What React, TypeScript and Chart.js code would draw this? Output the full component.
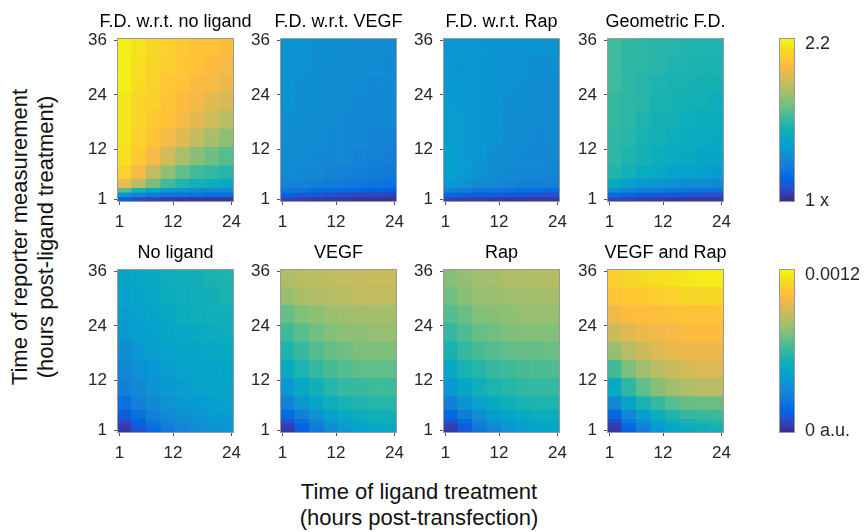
import React, { useEffect, useRef } from 'react';
import { Chart, registerables } from 'chart.js';
Chart.register(...registerables);

const FONT = "'Liberation Sans', Arial, Helvetica, sans-serif";

// ---------- data ----------
// x: time of ligand treatment (hours post-transfection), 3-h bin centres
const ligandTimes = [2, 5, 8, 11, 14, 17, 20, 23];
// y: time of reporter measurement (hours post-ligand treatment), bins listed top -> bottom
const reporterBins = [
  [32.5, 36.5], [28.5, 32.5], [24.5, 28.5], [20.5, 24.5], [16.5, 20.5], [12.5, 16.5],
  [8.5, 12.5], [5.5, 8.5], [3.5, 5.5], [2.5, 3.5], [1.5, 2.5], [0.5, 1.5],
];
const xTicks = [1, 12, 24];
const yTicks = [1, 12, 24, 36];

// fold difference (x), rows top -> bottom
const fdNoLigand = [
  [2.21, 2.18, 2.14, 2.12, 2.09, 2.07, 2.06, 2.04],
  [2.21, 2.17, 2.13, 2.11, 2.08, 2.06, 2.04, 2.02],
  [2.21, 2.16, 2.12, 2.08, 2.06, 2.03, 2.02, 1.99],
  [2.19, 2.14, 2.11, 2.07, 2.04, 2.01, 1.97, 1.94],
  [2.19, 2.14, 2.09, 2.06, 2.02, 1.97, 1.92, 1.87],
  [2.19, 2.12, 2.07, 2.02, 1.96, 1.89, 1.83, 1.78],
  [2.17, 2.09, 2.02, 1.93, 1.84, 1.77, 1.72, 1.68],
  [2.12, 2.02, 1.89, 1.78, 1.70, 1.64, 1.62, 1.59],
  [1.99, 1.87, 1.74, 1.64, 1.58, 1.54, 1.52, 1.49],
  [1.68, 1.55, 1.47, 1.40, 1.37, 1.34, 1.33, 1.32],
  [1.37, 1.30, 1.27, 1.24, 1.23, 1.22, 1.20, 1.20],
  [1.14, 1.09, 1.07, 1.05, 1.04, 1.03, 1.03, 1.03],
];
const fdVEGF = [
  [1.37, 1.37, 1.35, 1.35, 1.35, 1.34, 1.34, 1.34],
  [1.37, 1.37, 1.35, 1.35, 1.34, 1.34, 1.34, 1.33],
  [1.37, 1.35, 1.35, 1.34, 1.34, 1.34, 1.33, 1.33],
  [1.37, 1.35, 1.35, 1.34, 1.34, 1.33, 1.33, 1.32],
  [1.35, 1.35, 1.34, 1.34, 1.33, 1.33, 1.32, 1.32],
  [1.35, 1.34, 1.34, 1.33, 1.33, 1.32, 1.30, 1.30],
  [1.34, 1.34, 1.33, 1.32, 1.32, 1.30, 1.29, 1.28],
  [1.33, 1.33, 1.32, 1.30, 1.29, 1.28, 1.27, 1.25],
  [1.30, 1.29, 1.28, 1.27, 1.25, 1.24, 1.23, 1.22],
  [1.24, 1.23, 1.20, 1.19, 1.18, 1.17, 1.15, 1.14],
  [1.15, 1.13, 1.12, 1.10, 1.09, 1.08, 1.08, 1.07],
  [1.07, 1.05, 1.04, 1.03, 1.03, 1.02, 1.02, 1.02],
];
const fdRap = [
  [1.38, 1.38, 1.38, 1.37, 1.37, 1.37, 1.37, 1.37],
  [1.39, 1.38, 1.38, 1.37, 1.37, 1.37, 1.35, 1.35],
  [1.39, 1.39, 1.38, 1.37, 1.37, 1.35, 1.35, 1.34],
  [1.40, 1.39, 1.38, 1.37, 1.35, 1.35, 1.34, 1.34],
  [1.42, 1.40, 1.38, 1.37, 1.35, 1.34, 1.34, 1.33],
  [1.42, 1.40, 1.38, 1.37, 1.35, 1.34, 1.33, 1.33],
  [1.43, 1.40, 1.38, 1.35, 1.34, 1.33, 1.33, 1.32],
  [1.43, 1.40, 1.37, 1.34, 1.33, 1.32, 1.32, 1.30],
  [1.40, 1.37, 1.34, 1.32, 1.30, 1.29, 1.29, 1.28],
  [1.29, 1.27, 1.24, 1.23, 1.22, 1.20, 1.20, 1.19],
  [1.18, 1.15, 1.14, 1.13, 1.12, 1.12, 1.10, 1.10],
  [1.07, 1.05, 1.05, 1.04, 1.04, 1.04, 1.03, 1.03],
];
const fdGeometric = [
  [1.64, 1.61, 1.60, 1.59, 1.59, 1.57, 1.57, 1.57],
  [1.64, 1.61, 1.60, 1.59, 1.57, 1.57, 1.56, 1.56],
  [1.64, 1.61, 1.59, 1.57, 1.56, 1.56, 1.55, 1.55],
  [1.62, 1.60, 1.59, 1.56, 1.55, 1.54, 1.54, 1.52],
  [1.62, 1.60, 1.57, 1.55, 1.54, 1.52, 1.51, 1.51],
  [1.61, 1.59, 1.56, 1.54, 1.52, 1.51, 1.50, 1.49],
  [1.61, 1.57, 1.55, 1.52, 1.50, 1.49, 1.47, 1.46],
  [1.58, 1.54, 1.50, 1.48, 1.45, 1.44, 1.43, 1.41],
  [1.49, 1.44, 1.40, 1.38, 1.37, 1.35, 1.34, 1.33],
  [1.34, 1.30, 1.27, 1.25, 1.24, 1.23, 1.22, 1.22],
  [1.20, 1.17, 1.14, 1.13, 1.12, 1.12, 1.10, 1.10],
  [1.08, 1.07, 1.05, 1.04, 1.04, 1.03, 1.03, 1.03],
];

// reporter level in units of 1e-4 a.u., rows top -> bottom
const noLigand = [
  [4.6, 4.8, 4.9, 5.2, 5.3, 5.4, 5.6, 5.7],
  [4.4, 4.7, 4.8, 5.1, 5.2, 5.3, 5.4, 5.6],
  [4.2, 4.4, 4.7, 4.8, 5.1, 5.2, 5.3, 5.4],
  [3.9, 4.2, 4.4, 4.7, 4.8, 4.9, 5.1, 5.2],
  [3.5, 3.9, 4.2, 4.4, 4.6, 4.7, 4.8, 4.9],
  [3.2, 3.6, 3.9, 4.2, 4.4, 4.5, 4.6, 4.7],
  [2.8, 3.3, 3.7, 4.0, 4.2, 4.4, 4.5, 4.6],
  [2.1, 2.8, 3.3, 3.7, 3.9, 4.1, 4.2, 4.4],
  [1.3, 2.1, 2.8, 3.3, 3.6, 3.8, 4.0, 4.1],
  [0.8, 1.6, 2.4, 3.0, 3.4, 3.6, 3.8, 3.9],
  [0.5, 1.3, 2.1, 2.8, 3.2, 3.5, 3.7, 3.8],
  [0.3, 1.0, 1.8, 2.5, 3.0, 3.4, 3.6, 3.8],
];
const vegf = [
  [8.5, 8.7, 8.8, 8.9, 9.0, 9.0, 9.1, 9.1],
  [8.0, 8.4, 8.6, 8.7, 8.8, 8.9, 8.9, 8.9],
  [7.1, 7.6, 7.8, 8.1, 8.2, 8.3, 8.3, 8.3],
  [6.4, 6.9, 7.3, 7.6, 7.8, 7.8, 8.0, 8.0],
  [5.7, 6.3, 6.8, 7.1, 7.3, 7.5, 7.5, 7.5],
  [4.9, 5.7, 6.2, 6.6, 6.8, 7.0, 7.0, 7.0],
  [3.9, 4.8, 5.4, 5.9, 6.2, 6.3, 6.4, 6.4],
  [2.9, 3.8, 4.6, 5.2, 5.6, 5.8, 5.9, 5.9],
  [1.8, 2.8, 3.7, 4.4, 4.9, 5.2, 5.4, 5.4],
  [1.0, 2.0, 3.0, 3.9, 4.4, 4.8, 5.1, 5.2],
  [0.6, 1.5, 2.7, 3.5, 4.2, 4.6, 4.8, 4.9],
  [0.4, 1.3, 2.4, 3.3, 3.9, 4.4, 4.7, 4.8],
];
const rap = [
  [7.7, 8.0, 8.2, 8.3, 8.5, 8.5, 8.6, 8.6],
  [7.3, 7.7, 8.0, 8.1, 8.2, 8.2, 8.3, 8.3],
  [6.8, 7.2, 7.6, 7.7, 7.8, 8.0, 8.0, 8.0],
  [6.2, 6.7, 7.1, 7.3, 7.5, 7.6, 7.6, 7.6],
  [5.6, 6.2, 6.6, 6.8, 7.0, 7.1, 7.1, 7.2],
  [4.8, 5.6, 5.9, 6.3, 6.4, 6.6, 6.7, 6.7],
  [3.9, 4.7, 5.3, 5.7, 5.9, 6.1, 6.2, 6.2],
  [2.8, 3.7, 4.4, 4.9, 5.3, 5.6, 5.7, 5.7],
  [1.7, 2.7, 3.5, 4.2, 4.7, 4.9, 5.2, 5.2],
  [1.0, 1.9, 2.9, 3.7, 4.2, 4.6, 4.8, 4.9],
  [0.6, 1.4, 2.5, 3.3, 3.9, 4.3, 4.6, 4.7],
  [0.4, 1.2, 2.3, 3.0, 3.7, 4.2, 4.4, 4.6],
];
const vegfAndRap = [
  [11.1, 11.4, 11.6, 11.7, 11.9, 12.0, 12.1, 12.1],
  [10.7, 10.9, 11.0, 11.1, 11.2, 11.4, 11.5, 11.5],
  [10.1, 10.4, 10.5, 10.5, 10.6, 10.6, 10.6, 10.7],
  [9.2, 9.7, 10.0, 10.1, 10.2, 10.4, 10.4, 10.4],
  [8.0, 8.7, 9.2, 9.6, 9.9, 10.0, 10.0, 10.0],
  [6.4, 7.5, 8.2, 8.7, 9.1, 9.4, 9.5, 9.5],
  [4.9, 6.1, 7.0, 7.7, 8.2, 8.5, 8.7, 8.7],
  [3.2, 4.6, 5.6, 6.3, 6.8, 7.1, 7.2, 7.2],
  [1.7, 3.2, 4.3, 5.2, 5.8, 6.2, 6.3, 6.4],
  [0.9, 2.3, 3.5, 4.6, 5.2, 5.6, 5.8, 5.9],
  [0.5, 1.8, 3.0, 4.1, 4.8, 5.2, 5.4, 5.6],
  [0.3, 1.4, 2.7, 3.8, 4.6, 4.9, 5.2, 5.3],
];

// colour scale limits and colorbar ticks
const foldRange = [0.99, 2.244];
const foldTicks = [1, 2.2];
const foldTickLabels = ['1 x', '2.2'];
const auRange = [-0.115, 12.5]; // 1e-4 a.u.
const auTicks = [0, 12];
const auTickLabels = ['0 a.u.', '0.0012'];

// ---------- parula colormap (subset of 64-entry table: [index, r, g, b]) ----------
const PARULA = [
  [0, 53, 42, 135], [2, 54, 55, 160], [4, 50, 67, 186], [6, 32, 83, 212], [8, 3, 99, 225],
  [10, 4, 109, 224], [12, 13, 117, 220], [14, 18, 125, 216], [16, 20, 133, 212], [18, 16, 142, 210],
  [20, 9, 152, 209], [22, 6, 160, 205], [24, 6, 167, 198], [26, 10, 172, 190], [28, 21, 177, 180],
  [30, 37, 181, 169], [32, 56, 185, 158], [34, 77, 188, 146], [36, 101, 190, 134], [38, 124, 191, 123],
  [40, 146, 191, 115], [42, 165, 190, 107], [44, 183, 189, 100], [46, 200, 188, 93], [48, 217, 186, 86],
  [50, 233, 185, 78], [51, 241, 185, 74], [52, 248, 186, 68], [53, 253, 190, 61], [54, 255, 195, 55],
  [55, 254, 200, 50], [56, 252, 206, 46], [58, 247, 216, 38], [60, 245, 228, 29], [62, 246, 243, 19],
  [63, 249, 251, 14],
];
function parula(t: number): string {
  const u = Math.min(1, Math.max(0, t)) * 63;
  for (let i = 0; i < PARULA.length - 1; i++) {
    const a = PARULA[i];
    const b = PARULA[i + 1];
    if (u <= b[0]) {
      const f = (u - a[0]) / (b[0] - a[0]);
      const c = [1, 2, 3].map((k) => Math.round(a[k] + (b[k] - a[k]) * f));
      return `rgb(${c[0]},${c[1]},${c[2]})`;
    }
  }
  return 'rgb(249,251,14)';
}

// ---------- layout ----------
const PANEL_W = 117;
const PANEL_H = 164;
const PAD_L = 45;
const TITLE_H = 38;
const XAXIS_H = 35;

const panels = [
  { title: 'F.D. w.r.t. no ligand', values: fdNoLigand, range: foldRange, left: 117, top: 38 },
  { title: 'F.D. w.r.t. VEGF', values: fdVEGF, range: foldRange, left: 280, top: 38 },
  { title: 'F.D. w.r.t. Rap', values: fdRap, range: foldRange, left: 443, top: 38 },
  { title: 'Geometric F.D.', values: fdGeometric, range: foldRange, left: 607, top: 38 },
  { title: 'No ligand', values: noLigand, range: auRange, left: 117, top: 269 },
  { title: 'VEGF', values: vegf, range: auRange, left: 280, top: 269 },
  { title: 'Rap', values: rap, range: auRange, left: 443, top: 269 },
  { title: 'VEGF and Rap', values: vegfAndRap, range: auRange, left: 607, top: 269 },
];
const colorbars = [
  { range: foldRange, ticks: foldTicks, labels: foldTickLabels, left: 779, top: 38 },
  { range: auRange, ticks: auTicks, labels: auTickLabels, left: 779, top: 269 },
];

const framePlugin = {
  id: 'frame',
  afterDatasetsDraw(chart: any) {
    const { ctx, chartArea: a } = chart;
    ctx.save();
    ctx.strokeStyle = '#9a9a9a';
    ctx.lineWidth = 1;
    ctx.strokeRect(a.left + 0.5, a.top + 0.5, a.right - a.left - 1, a.bottom - a.top - 1);
    ctx.restore();
  },
};

const tickFont = { family: FONT, size: 17 };
const TICK_COLOR = '#262626';

function HeatPanel({ p }: any) {
  const ref = useRef<HTMLCanvasElement>(null);
  useEffect(() => {
    const [dMin, dMax] = p.range;
    const points: any[] = [];
    reporterBins.forEach((bin, r) => {
      ligandTimes.forEach((x, c) => {
        points.push({ x, y: bin, v: p.values[r][c] });
      });
    });
    const gridOpts = {
      offset: false,
      drawOnChartArea: false,
      drawTicks: true,
      tickLength: 3,
      color: '#555555',
    };
    const chart = new Chart(ref.current as HTMLCanvasElement, {
      type: 'bar',
      data: {
        datasets: [
          {
            data: points,
            backgroundColor: (ctx: any) =>
              ctx.raw ? parula((ctx.raw.v - dMin) / (dMax - dMin)) : 'rgba(0,0,0,0)',
            borderWidth: 0,
            barPercentage: 1,
            categoryPercentage: 1,
          } as any,
        ],
      },
      options: {
        responsive: false,
        animation: false,
        events: [],
        layout: { padding: 0 },
        plugins: {
          legend: { display: false },
          tooltip: { enabled: false },
          title: {
            display: true,
            text: p.title,
            color: '#000000',
            font: { family: FONT, size: 18, weight: 'normal' },
            padding: { top: 11, bottom: TITLE_H - 21.6 - 11 },
          },
        },
        scales: {
          x: {
            type: 'linear',
            min: 0.5,
            max: 24.5,
            offset: false,
            afterBuildTicks: (s: any) => {
              s.ticks = xTicks.map((value) => ({ value }));
            },
            afterFit: (s: any) => {
              s.height = XAXIS_H;
            },
            ticks: { font: tickFont, color: TICK_COLOR, padding: 7, maxRotation: 0, autoSkip: false },
            grid: gridOpts,
            border: { display: false },
          },
          y: {
            type: 'linear',
            min: 0.5,
            max: 36.5,
            afterBuildTicks: (s: any) => {
              s.ticks = yTicks.map((value) => ({ value }));
            },
            afterFit: (s: any) => {
              s.width = PAD_L;
            },
            ticks: { font: tickFont, color: TICK_COLOR, padding: 7, autoSkip: false },
            grid: gridOpts,
            border: { display: false },
          },
          yRight: {
            type: 'linear',
            position: 'right',
            min: 0,
            max: 1,
            ticks: { display: false },
            grid: { display: false, drawTicks: false },
            border: { display: false },
            afterFit: (s: any) => {
              s.width = PAD_L;
            },
          },
        },
      } as any,
      plugins: [framePlugin],
    });
    return () => chart.destroy();
  }, []);
  return (
    <canvas
      ref={ref}
      width={PAD_L * 2 + PANEL_W}
      height={TITLE_H + PANEL_H + XAXIS_H}
      style={{ position: 'absolute', left: p.left - PAD_L, top: p.top - TITLE_H }}
    />
  );
}

const CB_BOTTOM = 30;

function ColorBar({ cb }: any) {
  const ref = useRef<HTMLCanvasElement>(null);
  useEffect(() => {
    const [dMin, dMax] = cb.range;
    const chart = new Chart(ref.current as HTMLCanvasElement, {
      type: 'bar',
      data: {
        labels: [''],
        datasets: [
          {
            data: [[dMin, dMax]],
            backgroundColor: (ctx: any) => {
              const a = ctx.chart.chartArea;
              if (!a) return 'rgba(0,0,0,0)';
              const g = ctx.chart.ctx.createLinearGradient(0, a.bottom, 0, a.top);
              PARULA.forEach(([i, r, gg, b]) => g.addColorStop(i / 63, `rgb(${r},${gg},${b})`));
              return g;
            },
            borderWidth: 0,
            barPercentage: 1,
            categoryPercentage: 1,
          } as any,
        ],
      },
      options: {
        responsive: false,
        animation: false,
        events: [],
        layout: { padding: { left: 0, right: 0, top: TITLE_H, bottom: 0 } },
        plugins: { legend: { display: false }, tooltip: { enabled: false }, title: { display: false } },
        scales: {
          x: {
            type: 'category',
            display: true,
            ticks: { display: false },
            grid: { display: false, drawTicks: false },
            border: { display: false },
            afterFit: (s: any) => {
              s.height = CB_BOTTOM;
            },
          },
          y: {
            type: 'linear',
            position: 'right',
            min: dMin,
            max: dMax,
            afterBuildTicks: (s: any) => {
              s.ticks = cb.ticks.map((value: number) => ({ value }));
            },
            afterFit: (s: any) => {
              s.width = 70;
            },
            ticks: {
              font: { family: FONT, size: 18 },
              color: TICK_COLOR,
              padding: 10,
              callback: (_v: any, i: number) => cb.labels[i],
            },
            grid: { display: false, drawTicks: false },
            border: { display: false },
          },
        },
      } as any,
      plugins: [framePlugin],
    });
    return () => chart.destroy();
  }, []);
  return (
    <canvas
      ref={ref}
      width={86}
      height={TITLE_H + PANEL_H + CB_BOTTOM}
      style={{ position: 'absolute', left: cb.left, top: cb.top - TITLE_H }}
    />
  );
}

export default function App() {
  const labelStyle: any = {
    position: 'absolute',
    width: 400,
    textAlign: 'center',
    fontFamily: FONT,
    fontSize: 22,
    lineHeight: '26px',
    color: '#111111',
    whiteSpace: 'nowrap',
  };
  return (
    <div
      style={{
        position: 'fixed',
        left: 0,
        top: 0,
        width: 865,
        height: 532,
        background: '#ffffff',
        overflow: 'hidden',
      }}
    >
      {panels.map((p, i) => (
        <HeatPanel key={i} p={p} />
      ))}
      {colorbars.map((cb, i) => (
        <ColorBar key={i} cb={cb} />
      ))}
      <div style={{ ...labelStyle, left: 219, top: 478.5, height: 52 }}>
        Time of ligand treatment
        <br />
        (hours post-transfection)
      </div>
      <div
        style={{
          ...labelStyle,
          left: 33 - 200,
          top: 237 - 26,
          height: 52,
          transform: 'rotate(-90deg)',
        }}
      >
        Time of reporter measurement
        <br />
        (hours post-ligand treatment)
      </div>
    </div>
  );
}
